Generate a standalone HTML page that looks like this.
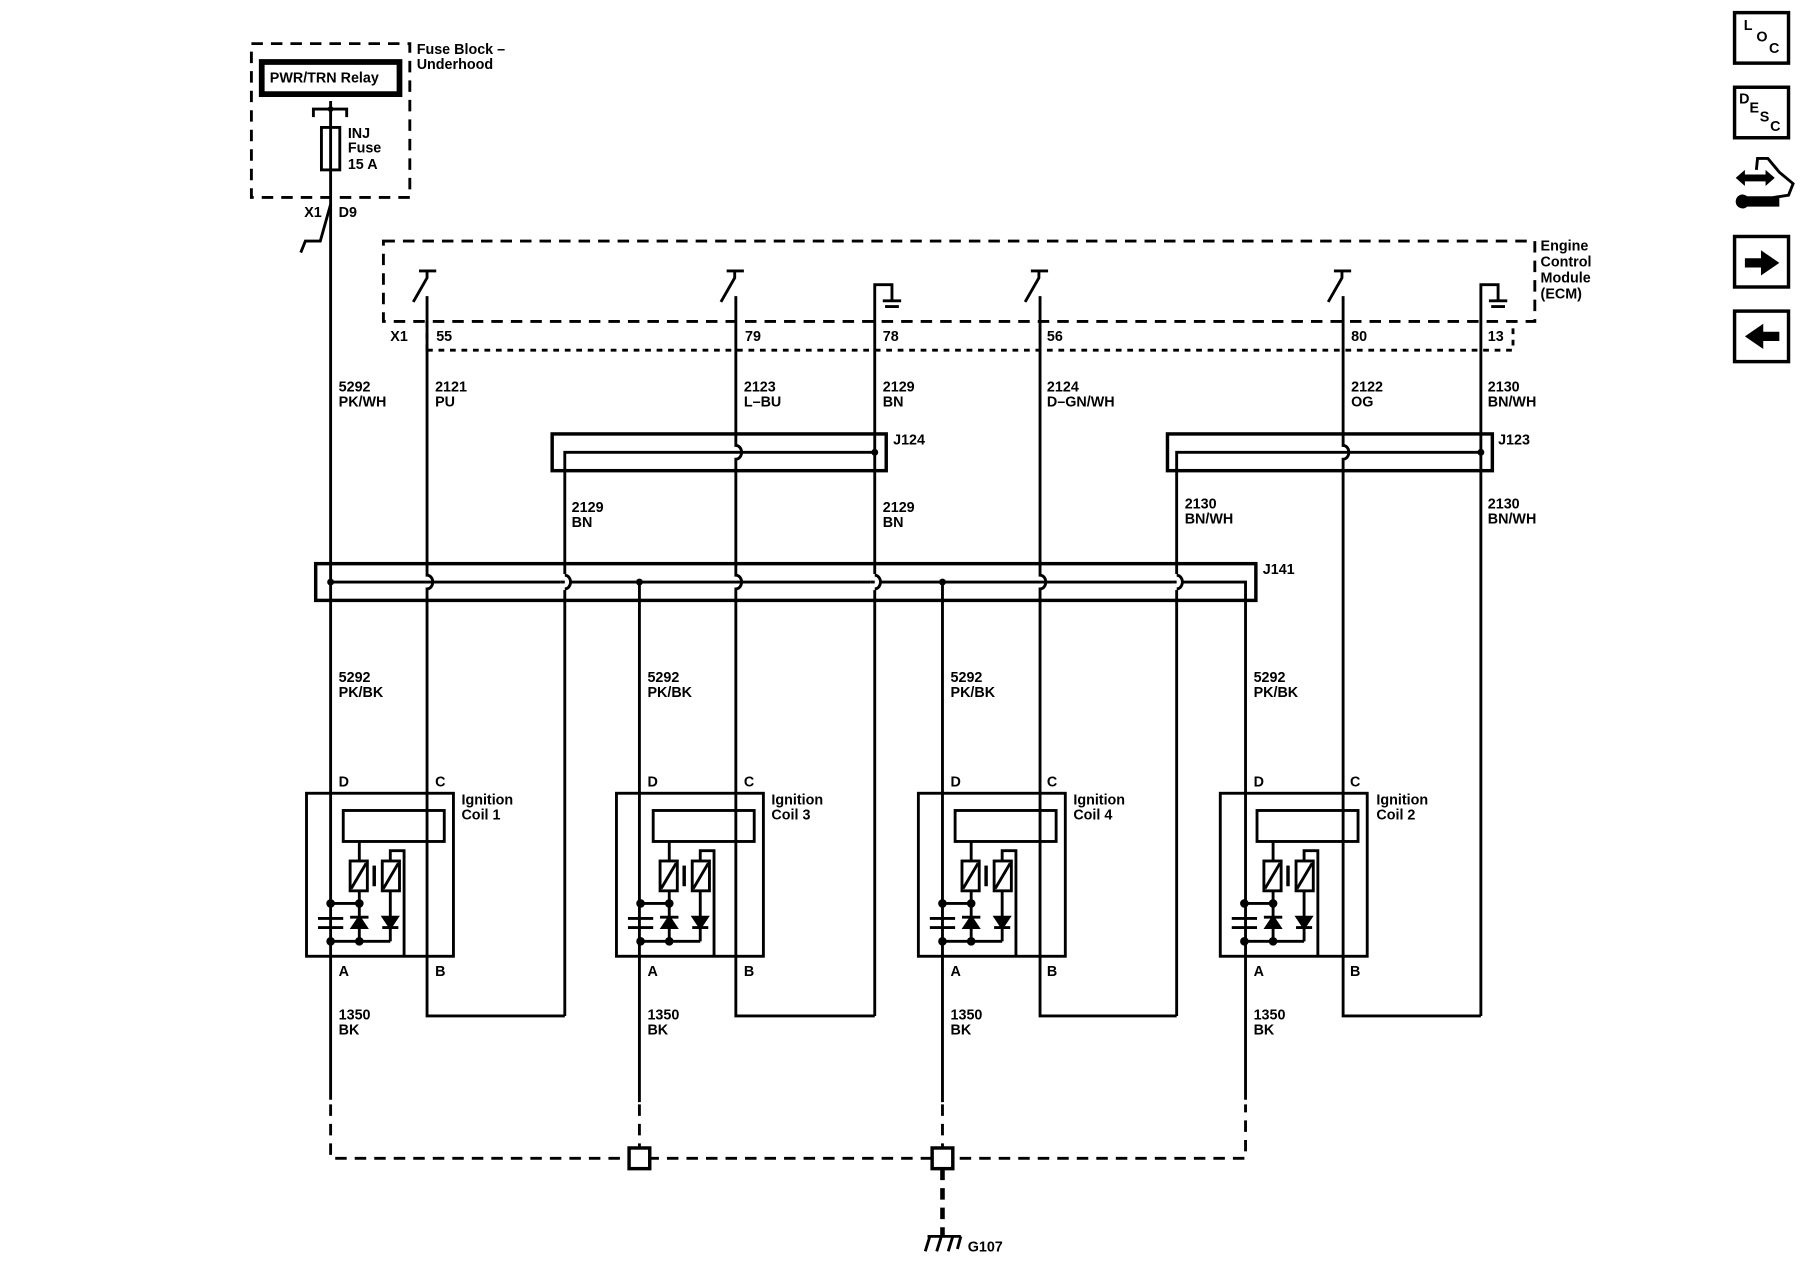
<!DOCTYPE html>
<html><head><meta charset="utf-8"><style>
html,body{margin:0;padding:0;background:#fff}
svg{display:block}
text{font-family:"Liberation Sans",sans-serif;font-weight:bold;font-size:12.5px;fill:#000}
</style></head><body>
<svg width="1800" height="1280" viewBox="0 0 1568 1115" preserveAspectRatio="none" xmlns="http://www.w3.org/2000/svg">
<defs>
<g id="coil" fill="none" stroke="#000" stroke-width="2.5">
<rect x="267" y="691" width="128" height="142"/>
<rect x="299" y="706" width="88" height="27"/>
<line x1="313" y1="733" x2="313" y2="750"/>
<rect x="305" y="750" width="15" height="26"/>
<line x1="306" y1="774" x2="319" y2="752"/>
<rect x="333" y="750" width="15" height="26"/>
<line x1="334" y1="774" x2="347" y2="752"/>
<line x1="326" y1="754" x2="326" y2="772" stroke-width="3"/>
<polyline points="340,750 340,741 352,741 352,833"/>
<line x1="288" y1="787" x2="313" y2="787"/>
<line x1="313" y1="776" x2="313" y2="820"/>
<line x1="340" y1="776" x2="340" y2="820"/>
<line x1="277" y1="800" x2="299" y2="800"/>
<line x1="277" y1="808" x2="299" y2="808"/>
<line x1="305" y1="799" x2="321" y2="799"/>
<polygon points="313,799 307,808 319,808" fill="#000"/>
<line x1="333" y1="808" x2="347" y2="808"/>
<polygon points="340,808 334,799 346,799" fill="#000"/>
<line x1="288" y1="820" x2="340" y2="820"/>
<circle cx="288" cy="787" r="2.5" fill="#000"/>
<circle cx="313" cy="787" r="2.5" fill="#000"/>
<circle cx="288" cy="820" r="2.5" fill="#000"/>
<circle cx="313" cy="820" r="2.5" fill="#000"/>
</g>
</defs>

<rect x="219" y="38" width="138" height="134" fill="none" stroke="#000" stroke-width="2.5" stroke-dasharray="10,7"/>
<rect x="228" y="54" width="120" height="28" fill="none" stroke="#000" stroke-width="5"/>
<text x="235" y="72" font-size="13">PWR/TRN Relay</text>
<text x="363" y="47">Fuse Block –</text>
<text x="363" y="60">Underhood</text>
<polyline points="273,102 273,95 302,95 302,102" fill="none" stroke="#000" stroke-width="2.5"/>
<circle cx="288" cy="95" r="2.5"/>
<rect x="280" y="111" width="16" height="37" fill="none" stroke="#000" stroke-width="2.5"/>
<text x="303" y="120">INJ</text><text x="303" y="133">Fuse</text><text x="303" y="147">15 A</text>
<text x="265" y="189">X1</text><text x="295" y="189">D9</text>
<path d="M288 88 V958" stroke="#000" stroke-width="2.5" fill="none"/>
<path d="M288 178 L279 210 L266 210 L262 220" stroke="#000" stroke-width="2.5" fill="none"/>

<rect x="334" y="210" width="1003" height="70" fill="none" stroke="#000" stroke-width="2.5" stroke-dasharray="10,7"/>
<path d="M372 305 H1318 V280 M372 305 V280" fill="none" stroke="#000" stroke-width="2.5" stroke-dasharray="5,5"/>
<text x="1342" y="218">Engine</text><text x="1342" y="232">Control</text><text x="1342" y="246">Module</text><text x="1342" y="260">(ECM)</text>
<text x="340" y="297">X1</text>
<text x="380" y="297">55</text><text x="649" y="297">79</text><text x="769" y="297">78</text><text x="912" y="297">56</text><text x="1177" y="297">80</text><text x="1296" y="297">13</text>
<g stroke="#000" stroke-width="2.5" fill="none">
<path d="M365 236 H380 M372 236 V242 L360 263"/>
<path d="M633 236 H648 M640 236 V242 L628 263"/>
<path d="M898 236 H913 M905 236 V242 L893 263"/>
<path d="M1162 236 H1177 M1169 236 V242 L1157 263"/>
<path d="M762 885 V248 H777 V262 M769 262 H785 M771 267 H783"/>
<path d="M1290 885 V248 H1305 V262 M1297 262 H1313 M1299 267 H1311"/>
</g>

<text x="295" y="341">5292</text><text x="295" y="354">PK/WH</text>
<text x="379" y="341">2121</text><text x="379" y="354">PU</text>
<text x="648" y="341">2123</text><text x="648" y="354">L–BU</text>
<text x="769" y="341">2129</text><text x="769" y="354">BN</text>
<text x="912" y="341">2124</text><text x="912" y="354">D–GN/WH</text>
<text x="1177" y="341">2122</text><text x="1177" y="354">OG</text>
<text x="1296" y="341">2130</text><text x="1296" y="354">BN/WH</text>

<g stroke="#000" stroke-width="2.5" fill="none">
<rect x="481" y="378" width="291" height="32" stroke-width="3"/>
<path d="M492 885 V394 H762"/>
<rect x="1017" y="378" width="283" height="32" stroke-width="3"/>
<path d="M1025 885 V394 H1290"/>
<rect x="275" y="491" width="819" height="32" stroke-width="3"/>
<path d="M288 507 H1085 V958"/>
<path d="M372 258 V501 a5 6 0 0 1 0 12 V885 H492"/>
<path d="M641 258 V388 a5 6 0 0 1 0 12 V501 a5 6 0 0 1 0 12 V885 H762"/>
<path d="M906 258 V501 a5 6 0 0 1 0 12 V885 H1025"/>
<path d="M1170 258 V388 a5 6 0 0 1 0 12 V885 H1290"/>
<path d="M557 507 V960 M821 507 V960"/>
</g>
<g fill="#fff" stroke="none">
<rect x="488" y="500" width="8" height="14"/><rect x="758" y="500" width="8" height="14"/><rect x="1021" y="500" width="8" height="14"/>
</g>
<g stroke="#000" stroke-width="2.5" fill="none">
<path d="M492 501 a5 6 0 0 1 0 12 M762 501 a5 6 0 0 1 0 12 M1025 501 a5 6 0 0 1 0 12"/>
<line x1="488" y1="507" x2="492" y2="507"/><line x1="758" y1="507" x2="762" y2="507"/><line x1="1021" y1="507" x2="1025" y2="507"/>
</g>
<circle cx="762" cy="394" r="3"/><circle cx="1290" cy="394" r="3"/>
<circle cx="557" cy="507" r="3"/><circle cx="821" cy="507" r="3"/><circle cx="288" cy="507" r="3"/>
<text x="778" y="387">J124</text><text x="1305" y="387">J123</text><text x="1100" y="500">J141</text>
<text x="498" y="446">2129</text><text x="498" y="459">BN</text>
<text x="769" y="446">2129</text><text x="769" y="459">BN</text>
<text x="1032" y="443">2130</text><text x="1032" y="456">BN/WH</text>
<text x="1296" y="443">2130</text><text x="1296" y="456">BN/WH</text>

<use href="#coil"/>
<use href="#coil" transform="translate(270,0)"/>
<use href="#coil" transform="translate(533,0)"/>
<use href="#coil" transform="translate(796,0)"/>
<g>
<text x="295" y="594">5292</text><text x="295" y="607">PK/BK</text>
<text x="564" y="594">5292</text><text x="564" y="607">PK/BK</text>
<text x="828" y="594">5292</text><text x="828" y="607">PK/BK</text>
<text x="1092" y="594">5292</text><text x="1092" y="607">PK/BK</text>
<text x="295" y="685">D</text><text x="379" y="685">C</text>
<text x="564" y="685">D</text><text x="648" y="685">C</text>
<text x="828" y="685">D</text><text x="912" y="685">C</text>
<text x="1092" y="685">D</text><text x="1176" y="685">C</text>
<text x="402" y="701">Ignition</text><text x="402" y="714">Coil 1</text>
<text x="672" y="701">Ignition</text><text x="672" y="714">Coil 3</text>
<text x="935" y="701">Ignition</text><text x="935" y="714">Coil 4</text>
<text x="1199" y="701">Ignition</text><text x="1199" y="714">Coil 2</text>
<text x="295" y="850">A</text><text x="379" y="850">B</text>
<text x="564" y="850">A</text><text x="648" y="850">B</text>
<text x="828" y="850">A</text><text x="912" y="850">B</text>
<text x="1092" y="850">A</text><text x="1176" y="850">B</text>
<text x="295" y="888">1350</text><text x="295" y="901">BK</text>
<text x="564" y="888">1350</text><text x="564" y="901">BK</text>
<text x="828" y="888">1350</text><text x="828" y="901">BK</text>
<text x="1092" y="888">1350</text><text x="1092" y="901">BK</text>
</g>

<g stroke="#000" stroke-width="2.5" fill="none" stroke-dasharray="10,7">
<path d="M288 962 V1009 H1085 V962"/>
<path d="M557 962 V1000 M821 962 V1000"/>
<path d="M821 1018 V1076" stroke-width="4"/>
</g>
<rect x="548" y="1000" width="18" height="18" fill="#fff" stroke="#000" stroke-width="3"/>
<rect x="812" y="1000" width="18" height="18" fill="#fff" stroke="#000" stroke-width="3"/>
<g stroke="#000" stroke-width="2.5">
<line x1="808" y1="1077" x2="837" y2="1077"/>
<line x1="810" y1="1077" x2="806" y2="1090"/><line x1="820" y1="1077" x2="816" y2="1090"/><line x1="830" y1="1077" x2="826" y2="1090"/><line x1="837" y1="1077" x2="834" y2="1088"/>
</g>
<text x="843" y="1090">G107</text>

<g stroke="#000" stroke-width="3" fill="none">
<rect x="1511" y="11" width="47" height="44"/>
<rect x="1511" y="76" width="47" height="44"/>
<rect x="1511" y="206" width="47" height="44"/>
<rect x="1511" y="271" width="47" height="44"/>
<path d="M1530 148 L1531 138 L1540 138 L1550 150 L1562 160 L1558 170 L1545 172 L1537 178 L1527 175" stroke-width="2.5"/>
</g>
<text x="1519" y="26" font-size="11">L</text><text x="1530" y="36" font-size="11">O</text><text x="1541" y="46" font-size="11">C</text>
<text x="1515" y="90" font-size="10">D</text><text x="1524" y="98" font-size="10">E</text><text x="1533" y="106" font-size="10">S</text><text x="1542" y="114" font-size="10">C</text>
<polygon points="1512,155 1520,148 1520,152 1538,152 1538,148 1546,155 1538,162 1538,158 1520,158 1520,162"/>
<path d="M1512 176 a6 6 0 0 1 10 -5 H1550 V180 H1522 a6 6 0 0 1 -10 -4 Z"/>
<polygon points="1520,225 1534,225 1534,218 1550,229 1534,240 1534,233 1520,233"/>
<polygon points="1550,289 1536,289 1536,282 1520,293 1536,304 1536,297 1550,297"/>
</svg>
</body></html>
